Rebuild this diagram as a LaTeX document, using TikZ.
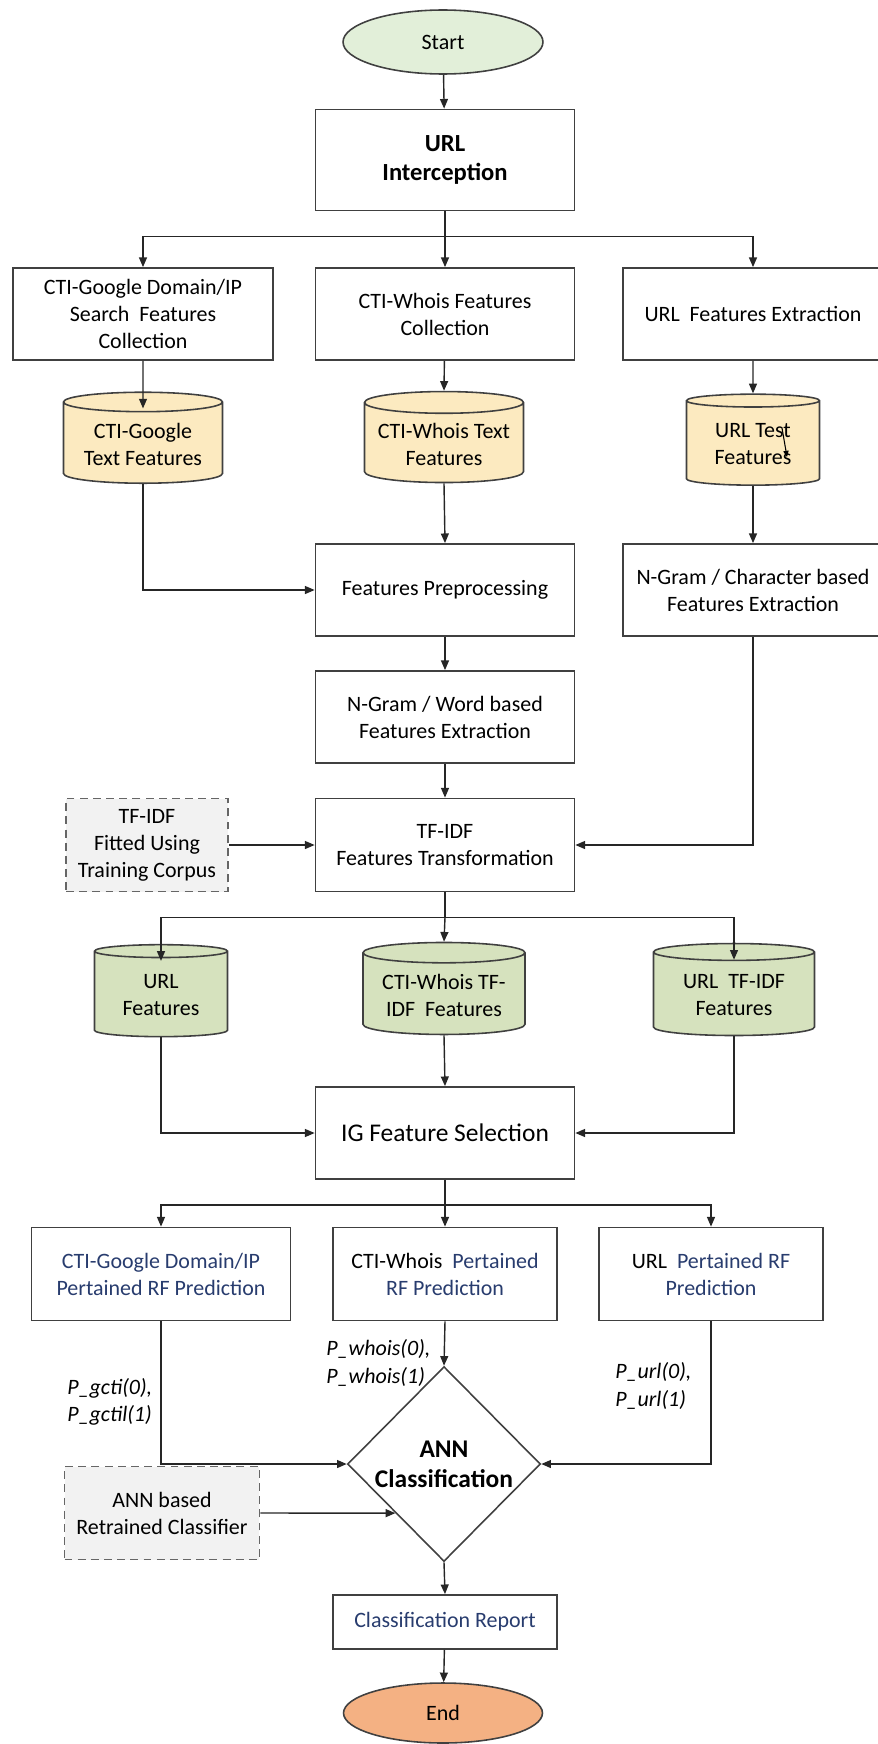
\documentclass[tikz,border=0pt]{standalone}
\usepackage{fontspec}
\setmainfont{Carlito}
\usetikzlibrary{shapes.geometric, arrows.meta, positioning, calc}
\definecolor{startgreen}{RGB}{226,239,217}
\definecolor{storeyellow}{RGB}{252,234,192}
\definecolor{storegreen}{RGB}{214,226,190}
\definecolor{endorange}{RGB}{244,177,131}
\definecolor{predblue}{RGB}{40,60,110}
\definecolor{edgegray}{RGB}{64,64,64}

\begin{document}
\begin{tikzpicture}[x=0.02cm, y=-0.02cm,
  font=\fontsize{12.5}{15.4}\selectfont,
  box/.style={draw=edgegray, line width=1pt, rectangle, align=center, minimum width=5.18cm, minimum height=1.84cm, inner sep=2pt},
  dashbox/.style={box, draw=gray!80!black, dash pattern=on 4.5pt off 3pt, fill=gray!10},
  store/.style={cylinder, shape border rotate=90, aspect=0.16, draw=edgegray, line width=0.9pt, align=center, minimum height=1.82cm, inner sep=1pt},
  terminal/.style={ellipse, draw=edgegray, line width=0.9pt, minimum width=4cm, minimum height=1.28cm},
  flow/.style={-{Triangle[length=5.5pt, width=4.5pt]}, line width=0.8pt, black!85},
  plabel/.style={font=\fontsize{12.5}{15.4}\selectfont\itshape, align=left, anchor=west, inner sep=0pt}
]
  \useasboundingbox (0,0) rectangle (878,1744);
  \clip (0,0) rectangle (878,1744);

  % Start and interception
  \node[terminal, fill=startgreen] (start) at (443,42) {Start};
  \node[box, minimum height=2.02cm, font=\fontsize{14}{17}\selectfont\bfseries] (urlint) at (445,160) {URL\\Interception};
  \draw[flow] (start) -- (urlint);

  % Collection row
  \node[box, minimum width=5.2cm] (gsearch) at (143,314) {CTI-Google Domain/IP\\Search~~Features\\Collection};
  \node[box] (wcollect) at (445,314) {CTI-Whois Features\\Collection};
  \node[box, minimum width=5.2cm] (uextract) at (753,314) {URL~~Features Extraction};
  \coordinate (split1) at ($(urlint.south)+(0,25)$);
  \draw[line width=0.8pt, black!85] (urlint.south) -- (split1);
  \draw[flow] (split1) -| (gsearch.north);
  \draw[flow] (split1) -- (wcollect.north);
  \draw[flow] (split1) -| (uextract.north);

  % Text feature stores
  \node[store, fill=storeyellow, minimum width=3.18cm] (gtext) at (143,444) {CTI-Google\\Text Features};
  \node[store, fill=storeyellow, minimum width=3.18cm] (wtext) at (444,444) {CTI-Whois Text\\Features};
  \node[store, fill=storeyellow, minimum width=2.66cm] (utext) at (753,444) {URL Test\\Features};
  \draw[flow] (gsearch.south) -- ($(gtext.north)+(0,17)$);
  \draw[flow] (wcollect) -- (wtext.north);
  \draw[flow] (uextract) -- (utext.north);
  \coordinate (strayA) at ($(utext.center)+(29,-16)$);
  \coordinate (strayB) at ($(utext.center)+(34,13)$);
  \draw[-{Triangle[length=3.5pt, width=3pt]}, line width=0.6pt] (strayA) -- (strayB);

  % Preprocessing and n-grams
  \node[box] (prep) at (445,590) {Features Preprocessing};
  \node[box, minimum width=5.2cm] (charext) at (753,590) {N-Gram / Character based\\Features Extraction};
  \draw[flow] (gtext.south) |- (prep.west);
  \draw[flow] (wtext.south) -- (prep.north);
  \draw[flow] (utext.south) -- (charext.north);
  \node[box] (wordext) at (445,717) {N-Gram / Word based\\Features Extraction};
  \draw[flow] (prep) -- (wordext);

  % TF-IDF
  \node[box, minimum height=1.86cm] (tfidf) at (445,845) {TF-IDF\\Features Transformation};
  \node[dashbox, minimum width=3.24cm, minimum height=1.86cm] (fitted) at (147,845) {TF-IDF\\Fitted Using\\Training Corpus};
  \draw[flow] (wordext) -- (tfidf);
  \draw[flow] (fitted) -- (tfidf);
  \draw[flow] (charext.south) |- (tfidf.east);

  % TF-IDF feature stores
  \node[store, fill=storegreen, minimum width=2.66cm, minimum height=1.84cm] (urlfeat) at (161,995) {URL\\Features};
  \node[store, fill=storegreen, minimum width=3.24cm, minimum height=1.84cm] (wfeat) at (444,995) {CTI-Whois TF-\\IDF~~Features};
  \node[store, fill=storegreen, minimum width=3.22cm, minimum height=1.84cm] (ufeat) at (734,995) {URL~~TF-IDF\\Features};
  \coordinate (split2) at ($(tfidf.south)+(0,25)$);
  \draw[line width=0.8pt, black!85] (tfidf.south) -- (split2);
  \draw[flow] (split2) -| ($(urlfeat.north)+(0,17)$);
  \draw[flow] (split2) -- (wfeat.north);
  \draw[flow] (split2) -| ($(ufeat.north)+(0,17)$);

  % Feature selection
  \node[box, font=\fontsize{14.5}{17}\selectfont] (igsel) at (445,1133) {IG Feature Selection};
  \draw[flow] (urlfeat.south) |- (igsel.west);
  \draw[flow] (wfeat.south) -- (igsel.north);
  \draw[flow] (ufeat.south) |- (igsel.east);

  % Pretrained predictions
  \node[box, minimum height=1.86cm, text=predblue] (gpred) at (161,1274) {CTI-Google Domain/IP\\Pertained RF Prediction};
  \node[box, minimum width=4.48cm, minimum height=1.86cm] (wpred) at (445,1274) {CTI-Whois~~\textcolor{predblue}{Pertained}\\\textcolor{predblue}{RF Prediction}};
  \node[box, minimum width=4.48cm, minimum height=1.86cm] (upred) at (711,1274) {URL~~\textcolor{predblue}{Pertained RF}\\\textcolor{predblue}{Prediction}};
  \coordinate (split3) at ($(igsel.south)+(0,25)$);
  \draw[line width=0.8pt, black!85] (igsel.south) -- (split3);
  \draw[flow] (split3) -| (gpred.north);
  \draw[flow] (split3) -- (wpred.north);
  \draw[flow] (split3) -| (upred.north);

  % ANN classification
  \node[diamond, draw=edgegray, line width=0.9pt, minimum width=3.86cm, minimum height=3.9cm, inner sep=0pt, align=center, font=\fontsize{14.5}{17}\selectfont\bfseries] (ann) at (444,1464) {ANN\\Classification};
  \draw[flow] (gpred.south) |- (ann.west);
  \draw[flow] (wpred.south) -- (ann.north);
  \draw[flow] (upred.south) |- (ann.east);
  \node[plabel] (lgcti) at (67,1402) {P\_gcti(0),\\P\_gctil(1)};
  \node[plabel] (lwhois) at (326,1363) {P\_whois(0),\\P\_whois(1)};
  \node[plabel] (lurl) at (615,1386) {P\_url(0),\\P\_url(1)};
  \node[dashbox, minimum width=3.9cm, minimum height=1.86cm] (anncls) at (162,1513) {ANN based\\Retrained Classifier};
  \draw[flow] (anncls.east) -- ($(ann.west)!0.5!(ann.south)$);

  % Report and end
  \node[box, minimum width=4.48cm, minimum height=1.08cm, text=predblue] (report) at (445,1622) {Classification Report};
  \node[terminal, fill=endorange, minimum width=3.98cm, minimum height=1.2cm] (finish) at (443,1713) {End};
  \draw[flow] (ann.south) -- (report.north);
  \draw[flow] (report) -- (finish);
\end{tikzpicture}
\end{document}
